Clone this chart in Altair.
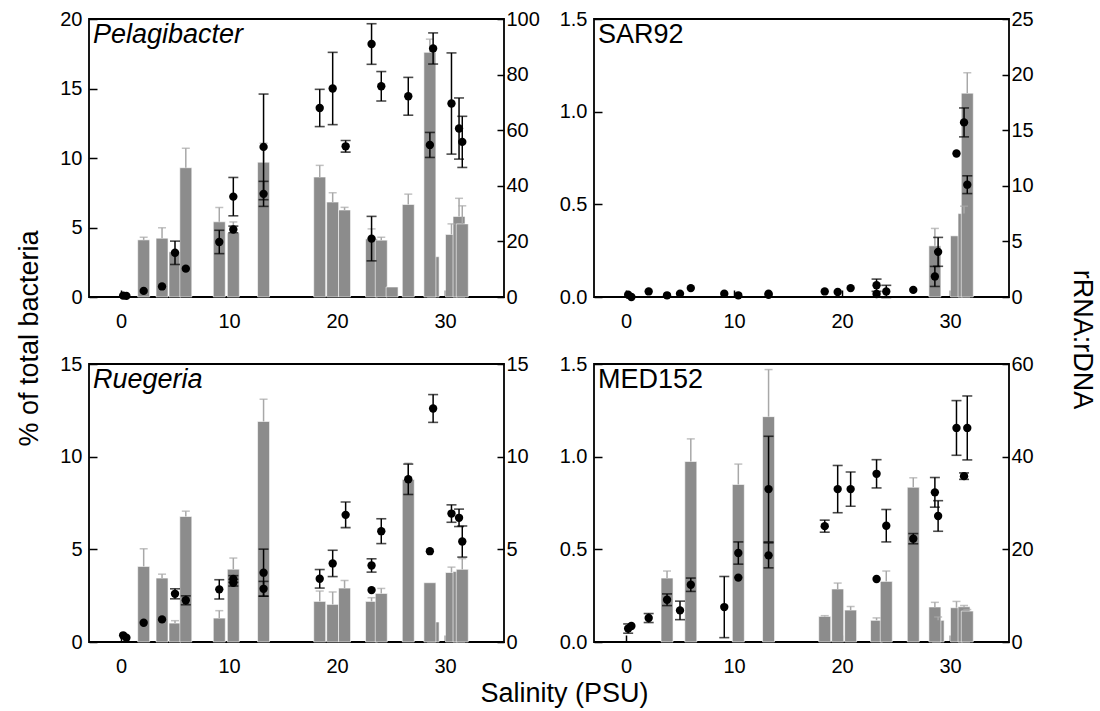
import altair as alt
import pandas as pd

FONT = "Liberation Sans"
BAR_COLOR = "#8c8c8c"
BAR_ERR_COLOR = "#a8a8a8"

# Bars are listed in drawing order (later bars are drawn on top).

# ---------------- Pelagibacter ----------------
pel_bar_sal = [2.1, 3.8, 5.0, 6.0, 9.1, 10.4, 13.2, 18.4, 19.6, 20.7, 23.2, 24.1, 25.1, 26.6, 28.9, 28.6, 30.6, 31.3, 31.6]
pel_bar_val = [4.11, 4.23, 3.25, 9.3, 5.41, 4.6, 9.7, 8.63, 6.83, 6.26, 4.18, 4.09, 0.72, 6.66, 2.9, 17.6, 4.5, 5.8, 5.26]
pel_bar_top = [4.3, 4.98, 3.25, 10.7, 6.44, 5.4, 11.06, 9.47, 7.5, 6.45, 4.9, 4.3, 0.72, 7.4, 2.9, 18.55, 5.26, 7.1, 6.56]
pel_pt_sal = [0.2, 0.5, 2.1, 3.8, 5.0, 6.0, 9.1, 10.4, 10.4, 13.2, 13.2, 18.4, 19.6, 20.8, 23.2, 23.2, 24.1, 26.6, 28.6, 28.9, 30.6, 31.3, 31.6]
pel_pt_val = [0.5, 0.4, 2.2, 3.8, 15.9, 10.2, 19.8, 36.1, 24.3, 54.0, 37.1, 68.0, 75.0, 54.2, 91.0, 21.0, 75.8, 72.2, 54.7, 89.4, 69.6, 60.6, 55.8]
pel_pt_err = [0, 0, 0, 0, 4.2, 0, 4.2, 6.9, 1.2, 19.0, 4.5, 6.7, 13.0, 2.1, 7.3, 8.0, 5.3, 6.8, 4.5, 5.6, 18.2, 11.0, 9.2]

# ---------------- SAR92 ----------------
sar_bar_sal = [28.6, 30.6, 31.3, 31.6]
sar_bar_val = [0.276, 0.33, 0.45, 1.1]
sar_bar_top = [0.37, 0.33, 0.49, 1.21]
sar_pt_sal = [0.2, 0.5, 2.1, 3.8, 5.0, 6.0, 9.1, 10.4, 13.2, 13.2, 18.4, 19.6, 20.8, 23.2, 23.2, 24.1, 26.6, 28.6, 28.9, 30.6, 31.3, 31.6]
sar_pt_val = [0.2, 0.0, 0.5, 0.15, 0.3, 0.8, 0.3, 0.15, 0.3, 0.2, 0.5, 0.45, 0.8, 1.06, 0.27, 0.5, 0.64, 1.85, 4.06, 12.9, 15.7, 10.1]
sar_pt_err = [0, 0, 0, 0, 0, 0, 0, 0, 0, 0, 0, 0, 0, 0.55, 0, 0.55, 0, 0.9, 1.3, 0, 1.3, 0.8]

# ---------------- Ruegeria ----------------
rue_bar_sal = [2.1, 3.8, 5.0, 6.0, 9.1, 10.4, 13.2, 18.4, 19.6, 20.7, 23.2, 24.1, 26.6, 28.9, 28.6, 30.6, 31.3, 31.6]
rue_bar_val = [4.08, 3.45, 1.02, 6.77, 1.29, 3.93, 11.9, 2.19, 2.03, 2.91, 2.19, 2.62, 8.77, 1.08, 3.2, 3.75, 3.8, 3.92]
rue_bar_top = [5.03, 3.66, 1.15, 7.06, 1.69, 4.53, 13.1, 2.75, 2.7, 3.32, 2.39, 2.89, 9.65, 1.08, 3.2, 4.04, 3.8, 4.5]
rue_pt_sal = [0.2, 0.5, 2.1, 3.8, 5.0, 6.0, 9.1, 10.4, 10.4, 13.2, 13.2, 18.4, 19.6, 20.8, 23.2, 23.2, 24.1, 26.6, 28.6, 28.9, 30.6, 31.3, 31.6]
rue_pt_val = [0.36, 0.23, 1.04, 1.22, 2.6, 2.25, 2.84, 3.4, 3.2, 3.74, 2.87, 3.41, 4.24, 6.86, 4.13, 2.8, 5.98, 8.78, 4.9, 12.6, 6.93, 6.7, 5.42]
rue_pt_err = [0, 0, 0, 0, 0.27, 0.24, 0.52, 0.18, 0.18, 1.27, 0.4, 0.5, 0.71, 0.69, 0.36, 0, 0.67, 0.82, 0, 0.75, 0.47, 0.47, 0.84]

# ---------------- MED152 ----------------
med_bar_sal = [3.8, 6.0, 10.4, 13.2, 18.4, 19.6, 20.8, 23.2, 24.1, 26.6, 28.9, 28.6, 30.6, 31.3, 31.6]
med_bar_val = [0.345, 0.974, 0.85, 1.216, 0.138, 0.286, 0.172, 0.117, 0.327, 0.835, 0.117, 0.189, 0.185, 0.19, 0.167]
med_bar_top = [0.383, 1.096, 0.96, 1.47, 0.142, 0.318, 0.192, 0.13, 0.383, 0.886, 0.135, 0.214, 0.219, 0.197, 0.175]
med_pt_sal = [0.2, 0.5, 2.1, 3.8, 5.0, 6.0, 9.1, 10.4, 10.4, 13.2, 13.2, 18.4, 19.6, 20.8, 23.2, 23.2, 24.1, 26.6, 28.6, 28.9, 30.6, 31.3, 31.6]
med_pt_val = [2.9, 3.45, 5.17, 9.12, 6.82, 12.36, 7.54, 19.2, 13.9, 33.0, 18.7, 25.0, 33.0, 33.0, 36.3, 13.6, 25.1, 22.3, 32.3, 27.2, 46.2, 35.8, 46.2]
med_pt_err = [1.0, 0, 0.97, 1.26, 2.0, 1.44, 6.6, 2.4, 0, 11.4, 2.7, 1.3, 5.1, 3.7, 3.05, 0, 3.5, 1.1, 3.2, 3.3, 5.9, 0.7, 6.9]

x_ticks = [0, 10, 20, 30]
x_domain = [-2.5, 35]

W, H = 415, 278


def panel(label, italic, bs, bv, bt, ps, pv, pe, lmax, lticks, lfmt, rmax, rticks,
          left_title=False, right_title=False, x_title=False):
    bars = pd.DataFrame({"sal": bs, "val": bv, "top": bt})
    berr = bars[bars["top"] > bars["val"]]
    pts = pd.DataFrame({"sal": ps, "val": pv, "err": pe})
    pts["lo"] = pts["val"] - pts["err"]
    pts["hi"] = pts["val"] + pts["err"]
    perr = pts[pts["err"] > 0]

    xargs = dict(values=x_ticks, offset=-7, tickSize=7, labelPadding=14,
                 domain=False, grid=False)
    if x_title:
        xaxis = alt.Axis(title="Salinity (PSU)", titleX=475, titleY=66,
                         titleAlign="center", titleBaseline="alphabetic", **xargs)
    else:
        xaxis = alt.Axis(title=None, **xargs)
    xs = alt.Scale(domain=x_domain, nice=False, zero=False)

    def X():
        return alt.X("sal:Q", scale=xs, axis=xaxis)

    largs = dict(orient="left", values=lticks, format=lfmt, offset=-8, tickSize=8,
                 labelPadding=7, domain=False, grid=False)
    if left_title:
        laxis = alt.Axis(title="% of total bacteria", titleX=-60, titleY=319,
                         titleAngle=270, titleAlign="center",
                         titleBaseline="alphabetic", **largs)
    else:
        laxis = alt.Axis(title=None, **largs)
    ls = alt.Scale(domain=[0, lmax], nice=False, zero=True)

    rargs = dict(orient="right", values=rticks, offset=-7, tickSize=7,
                 labelPadding=2, domain=False, grid=False)
    if right_title:
        raxis = alt.Axis(title="rRNA:rDNA", titleX=71, titleY=320, titleAngle=90,
                         titleAlign="center", titleBaseline="alphabetic", **rargs)
    else:
        raxis = alt.Axis(title=None, **rargs)
    rs = alt.Scale(domain=[0, rmax], nice=False, zero=True)

    bar_ch = alt.Chart(bars).mark_bar(size=12, orient="vertical", color=BAR_COLOR,
                                      stroke="white", strokeWidth=0.6).encode(
        x=X(), y=alt.Y("val:Q", scale=ls, axis=laxis))
    bar_rule = alt.Chart(berr).mark_rule(color=BAR_ERR_COLOR, strokeWidth=1.5).encode(
        x=X(), y=alt.Y("val:Q", scale=ls, axis=laxis), y2="top:Q")
    bar_cap = alt.Chart(berr).mark_tick(orient="horizontal", size=8, thickness=1.5,
                                        color=BAR_ERR_COLOR).encode(
        x=X(), y=alt.Y("top:Q", scale=ls, axis=laxis))
    left = alt.layer(bar_ch, bar_rule, bar_cap)

    p_rule = alt.Chart(perr).mark_rule(color="black", strokeWidth=1.5).encode(
        x=X(), y=alt.Y("lo:Q", scale=rs, axis=raxis), y2="hi:Q")
    p_cap_lo = alt.Chart(perr).mark_tick(orient="horizontal", size=10, thickness=1.6,
                                         color="black").encode(
        x=X(), y=alt.Y("lo:Q", scale=rs, axis=raxis))
    p_cap_hi = alt.Chart(perr).mark_tick(orient="horizontal", size=10, thickness=1.6,
                                         color="black").encode(
        x=X(), y=alt.Y("hi:Q", scale=rs, axis=raxis))
    p_pts = alt.Chart(pts).mark_circle(size=70, color="black", opacity=1).encode(
        x=X(), y=alt.Y("val:Q", scale=rs, axis=raxis))
    right = alt.layer(p_rule, p_cap_lo, p_cap_hi, p_pts)

    txt = alt.Chart(pd.DataFrame({"t": [label]})).mark_text(
        align="left", baseline="alphabetic", fontSize=27, font=FONT,
        fontStyle="italic" if italic else "normal", color="black").encode(
        x=alt.value(4), y=alt.value(24), text="t:N")

    return alt.layer(left, right, txt).resolve_scale(y="independent").properties(
        width=W, height=H)


p1 = panel("Pelagibacter", True, pel_bar_sal, pel_bar_val, pel_bar_top,
           pel_pt_sal, pel_pt_val, pel_pt_err, 20, [0, 5, 10, 15, 20], "d",
           100, [0, 20, 40, 60, 80, 100], left_title=True)
p2 = panel("SAR92", False, sar_bar_sal, sar_bar_val, sar_bar_top,
           sar_pt_sal, sar_pt_val, sar_pt_err, 1.5, [0, 0.5, 1.0, 1.5], ".1f",
           25, [0, 5, 10, 15, 20, 25], right_title=True)
p3 = panel("Ruegeria", True, rue_bar_sal, rue_bar_val, rue_bar_top,
           rue_pt_sal, rue_pt_val, rue_pt_err, 15, [0, 5, 10, 15], "d",
           15, [0, 5, 10, 15], x_title=True)
p4 = panel("MED152", False, med_bar_sal, med_bar_val, med_bar_top,
           med_pt_sal, med_pt_val, med_pt_err, 1.5, [0, 0.5, 1.0, 1.5], ".1f",
           60, [0, 20, 40, 60])

chart = alt.ConcatChart(
    concat=[p1, p2, p3, p4], columns=2,
    spacing=alt.RowColnumber(row=67, column=90), bounds="flush",
).properties(
    padding={"left": 14, "top": 8, "right": 4, "bottom": 3},
    background="white",
).configure_axis(
    labelFont=FONT, titleFont=FONT, labelFontSize=20, titleFontSize=27,
    titleFontWeight="normal", labelColor="black", titleColor="black",
    tickColor="black", tickWidth=1.5, grid=False, domain=False,
).configure_view(stroke="black", strokeWidth=1.8)

chart.save("out.html", embed_options={"renderer": "svg", "actions": False})
